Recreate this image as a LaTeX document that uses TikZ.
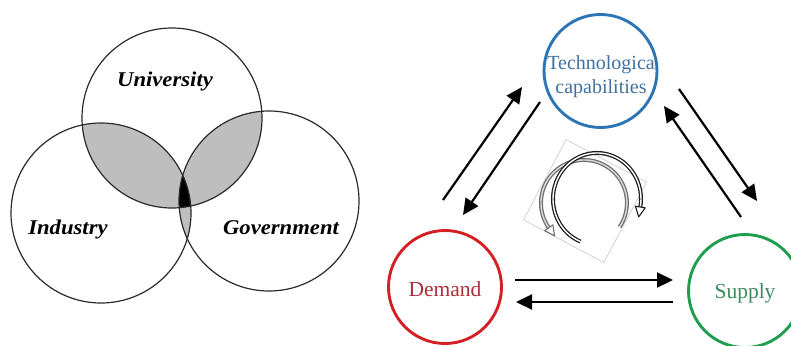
\documentclass[tikz,border=0pt]{standalone}
\usepackage{fontspec}
\setmainfont{Liberation Serif}
\usetikzlibrary{arrows.meta}

\definecolor{venngray}{HTML}{BEBEBE}
\definecolor{vennline}{HTML}{2B2B2B}
\definecolor{techring}{HTML}{2E75B6}
\definecolor{techtext}{HTML}{40709F}
\definecolor{demring}{HTML}{D42024}
\definecolor{demtext}{HTML}{AE2E38}
\definecolor{supring}{HTML}{1E9E4E}
\definecolor{suptext}{HTML}{3A8A5E}
\definecolor{loopdark}{HTML}{1E1E1E}
\definecolor{looplight}{HTML}{707070}

\tikzset{
  venn/.style={circle, draw=vennline, line width=1.2pt, minimum size=180pt, inner sep=0pt},
  vlabel/.style={anchor=base, inner sep=0pt, font=\fontsize{21}{24}\selectfont\bfseries\itshape},
  ring/.style={circle, line width=2.9pt, minimum size=113pt, inner sep=0pt},
  rlabel/.style={anchor=base, inner sep=0pt, font=\fontsize{21.5}{25}\selectfont},
  flow/.style={line width=2.2pt, -{Triangle[length=16pt,width=15pt]}},
  loopline/.style={line width=1.3pt, double distance=1.4pt},
  loophead/.style={line width=1.1pt, fill=white, line join=round},
}

\begin{document}
\begin{tikzpicture}[x=1pt,y=-1pt]
\useasboundingbox (0,0) rectangle (791,345);

% ---------- triple helix ----------
\coordinate (cu) at (172,118);
\coordinate (ci) at (101,213);
\coordinate (cg) at (269,201);

% pairwise overlaps
\begin{scope}
  \clip (cu) circle (90pt);
  \fill[venngray] (ci) circle (90pt);
  \fill[venngray] (cg) circle (90pt);
\end{scope}
\begin{scope}
  \clip (ci) circle (90pt);
  \fill[venngray] (cg) circle (90pt);
\end{scope}
% common core
\begin{scope}
  \clip (cu) circle (90pt);
  \clip (ci) circle (90pt);
  \fill[black] (cg) circle (90pt);
\end{scope}

\node[venn] (uni) at (cu) {};
\node[venn] (ind) at (ci) {};
\node[venn] (gov) at (cg) {};

\node[vlabel] (tuni) at (165,86) {\scalebox{1.08}[1]{University}};
\node[vlabel] (tind) at (68,234) {\scalebox{1.08}[1]{Industry}};
\node[vlabel] (tgov) at (281,234) {\scalebox{1.08}[1]{Government}};

% ---------- demand / supply / technology ----------
\node[ring, draw=techring] (tech) at (600.5,71) {};
\node[ring, draw=demring]  (dem)  at (445,287) {};
\node[ring, draw=supring]  (sup)  at (745,291) {};

\node[align=center, inner sep=0pt, text=techtext, font=\fontsize{20}{24}\selectfont,
      anchor=base] (techtxt) at (601,93) {Technologica\\capabilities};
\node[rlabel, text=demtext] (demtxt) at (445,296) {Demand};
\node[rlabel, text=suptext] (suptxt) at (745,298) {Supply};

% arrow end points
\coordinate (dt1) at (443,200); \coordinate (dt2) at (522,87);
\coordinate (td1) at (540,102); \coordinate (td2) at (463,215);
\coordinate (ts1) at (679,89);  \coordinate (ts2) at (757,201);
\coordinate (st1) at (741,217); \coordinate (st2) at (664,106);
\coordinate (ds1) at (515,280); \coordinate (ds2) at (673,280);
\coordinate (sd1) at (673,302); \coordinate (sd2) at (516,302);

\draw[flow] (dt1) -- (dt2);
\draw[flow] (td1) -- (td2);
\draw[flow] (ts1) -- (ts2);
\draw[flow] (st1) -- (st2);
\draw[flow] (ds1) -- (ds2);
\draw[flow] (sd1) -- (sd2);

% ---------- rotating cycle symbol ----------
\node[draw=gray!45, line width=0.6pt, minimum size=91pt, inner sep=0pt, rotate=-28] (frame) at (585,201) {};

\coordinate (gs) at (619.6,227.0);
\draw[loopline, draw=looplight, double=gray!30] (gs)
  arc[start angle=34, end angle=-215, radius=43];
\coordinate (ga) at (552.9,224.8);
\coordinate (gb) at (554.5,235.9);
\coordinate (gc) at (544.7,230.6);
\draw[loophead, draw=looplight] (ga) -- (gb) -- (gc) -- cycle;

\coordinate (bs) at (580.5,241.6);
\draw[loopline, draw=loopdark, double=white] (bs)
  arc[start angle=112, end angle=370, x radius=44, y radius=46];
\coordinate (ba) at (645.2,207.8);
\coordinate (bb) at (638.7,216.9);
\coordinate (bc) at (635.4,206.2);
\draw[loophead, draw=loopdark] (ba) -- (bb) -- (bc) -- cycle;

\end{tikzpicture}
\end{document}
